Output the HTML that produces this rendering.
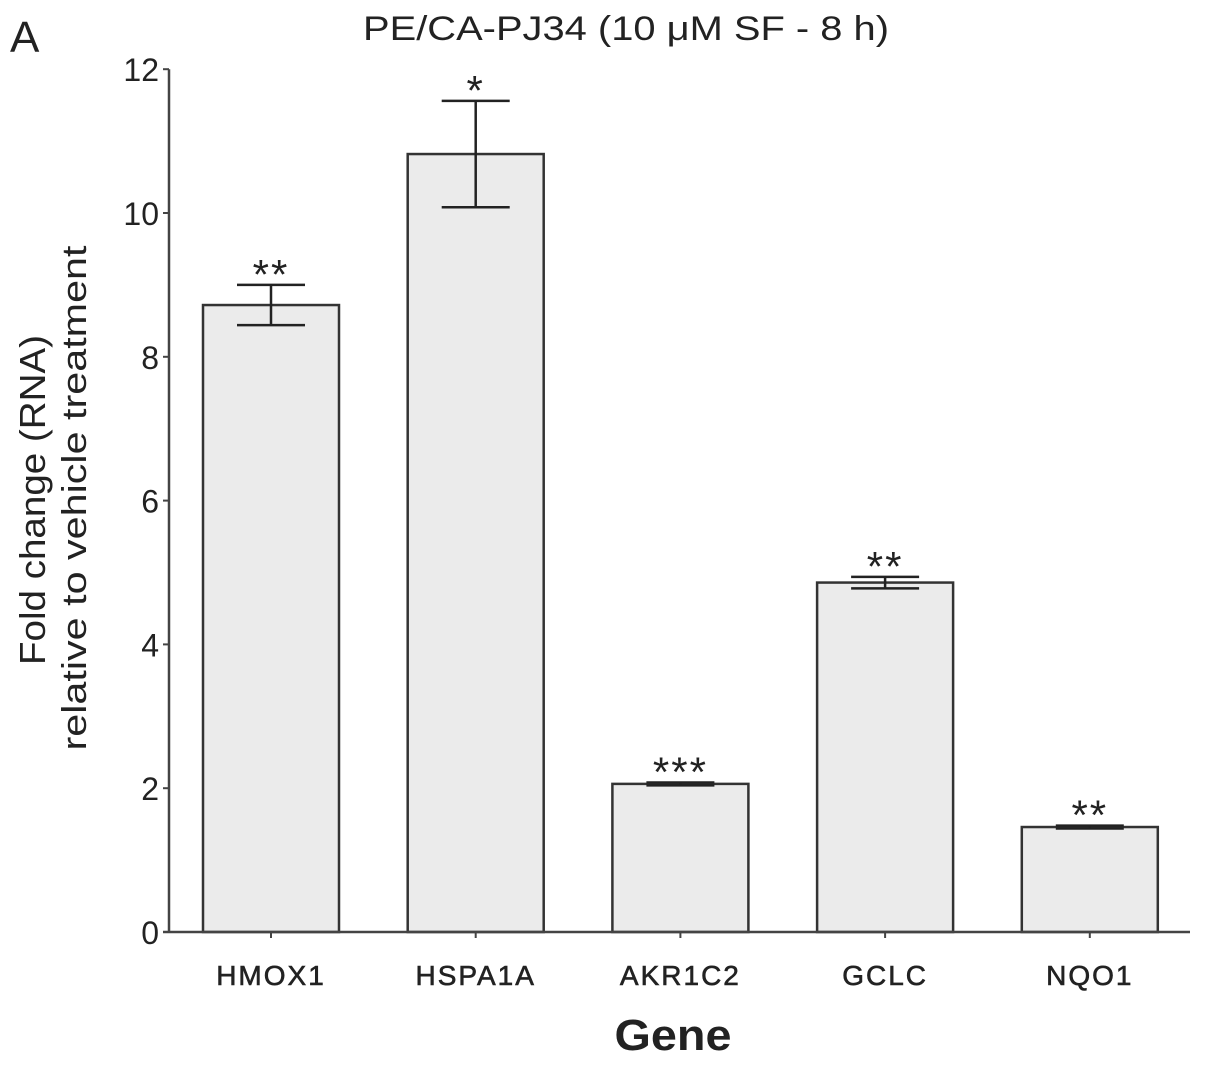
<!DOCTYPE html>
<html><head><meta charset="utf-8"><style>
body{margin:0;background:#fff}
svg text{font-family:"Liberation Sans",Arial,sans-serif;fill:#222}
</style></head><body>
<svg id="chart" width="1205" height="1065" xmlns="http://www.w3.org/2000/svg">
<text x="10" y="52" font-size="44">A</text>
<text x="626" y="40" font-size="34" text-anchor="middle" textLength="526" lengthAdjust="spacingAndGlyphs">PE/CA-PJ34 (10 μM SF - 8 h)</text>
<text transform="translate(45,500) rotate(-90)" font-size="36" text-anchor="middle" textLength="330" lengthAdjust="spacingAndGlyphs">Fold change (RNA)</text>
<text transform="translate(86,498) rotate(-90)" font-size="34" text-anchor="middle" textLength="505" lengthAdjust="spacingAndGlyphs">relative to vehicle treatment</text>
<text x="673" y="1050" font-size="44" font-weight="bold" text-anchor="middle" textLength="117" lengthAdjust="spacingAndGlyphs">Gene</text>
<g id="plot"></g>
</svg>
<script>
const categories=["HMOX1","HSPA1A","AKR1C2","GCLC","NQO1"];
const values=[8.72,10.82,2.06,4.86,1.46];
const errors=[0.28,0.74,0.02,0.08,0.02];
const stars=["**","*","***","**","**"];
const yTicks=[0,2,4,6,8,10,12];
const NS="http://www.w3.org/2000/svg";
const x0=169,y0=932,yPer=71.9,x1=1190;
const y=v=>y0-v*yPer;
const xc=i=>271+i*204.7;
const g=document.getElementById('plot');
function mk(t,a){const e=document.createElementNS(NS,t);for(const k in a)e.setAttribute(k,a[k]);g.appendChild(e);return e;}
categories.forEach((c,i)=>{
  const cx=xc(i),w=136;
  const b=mk('rect',{x:cx-w/2,y:y(values[i]),width:w,height:y0-y(values[i]),fill:'#ebebeb',stroke:'#333','stroke-width':2.5});
  
  
  const hi=y(values[i]+errors[i]),lo=y(values[i]-errors[i]);
  const e=mk('path',{d:`M${cx},${hi}V${lo}M${cx-34},${hi}H${cx+34}M${cx-34},${lo}H${cx+34}`,stroke:'#222','stroke-width':2.5,fill:'none'});
  
  
  const s=mk('text',{x:cx,y:hi+4,'font-size':42,'text-anchor':'middle','letter-spacing':2});s.textContent=stars[i];
  
  
  const t=mk('line',{x1:cx,x2:cx,y1:y0,y2:y0+6,stroke:'#444','stroke-width':2});
  
  
  const l=mk('text',{x:cx,y:985,'font-size':28,'text-anchor':'middle','stroke':'#222','stroke-width':0.6,'letter-spacing':2});l.textContent=c;
  
  
});
yTicks.forEach(v=>{
  const t=mk('line',{x1:x0-6,x2:x0,y1:y(v),y2:y(v),stroke:'#444','stroke-width':2});
  
  
  const l=mk('text',{x:x0-10,y:y(v)+12,'font-size':32,'text-anchor':'end'});l.textContent=v;
  
  
});
const ya=mk('line',{x1:x0,x2:x0,y1:y(12),y2:y0,stroke:'#444','stroke-width':2.5});


const xa=mk('line',{x1:x0-6,x2:x1,y1:y0,y2:y0,stroke:'#444','stroke-width':2.5});


</script>
</body></html>
